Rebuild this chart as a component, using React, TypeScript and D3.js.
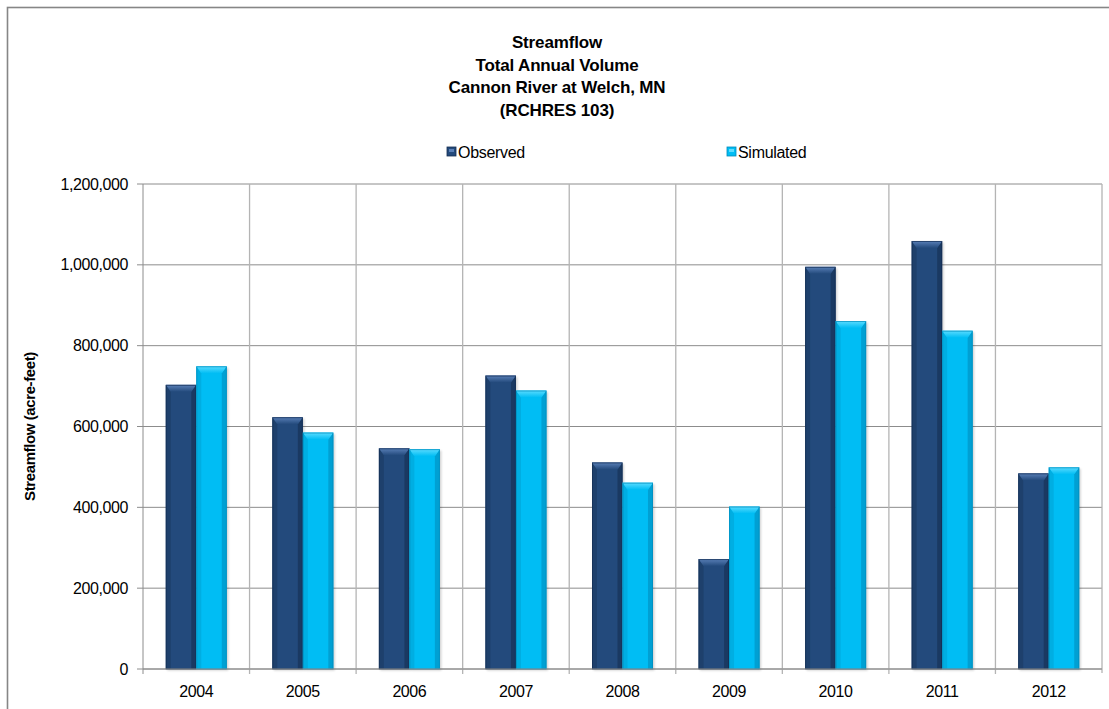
import React from "react";
import * as d3 from "d3";

const years = ["2004", "2005", "2006", "2007", "2008", "2009", "2010", "2011", "2012"];
const observed = [703000, 623000, 546000, 726000, 511000, 272000, 995000, 1059000, 484000];
const simulated = [749000, 585000, 544000, 689000, 461000, 402000, 861000, 837000, 499000];
const seriesNames = ["Observed", "Simulated"];
const yTicks = [0, 200000, 400000, 600000, 800000, 1000000, 1200000];
const titleLines = ["Streamflow", "Total Annual Volume", "Cannon River at Welch, MN", "(RCHRES 103)"];
const yAxisTitle = "Streamflow (acre-feet)";

const W = 1109;
const H = 709;
const plot = { left: 143, right: 1102, top: 184, bottom: 669 };

const palettes = [
  { base: "#234a7c", light: "#5a80b8", dark: "#142e52", edge: "#1a3a63" },
  { base: "#00bdf4", light: "#5cdcff", dark: "#008cbc", edge: "#00a3d6" },
];

const font = "'Liberation Sans', Arial, sans-serif";

function Bar({ x, y, w, h, pi }: { x: number; y: number; w: number; h: number; pi: number }) {
  const p = palettes[pi];
  const bw = 5;
  const bh = 7;
  const b = y + h;
  return (
    <g>
      <rect x={x + 1.5} y={y + 1.5} width={w} height={h} fill="#000" opacity={0.18} filter="url(#blur)" />
      <rect x={x} y={y} width={w} height={h} fill={p.base} />
      <polygon points={`${x},${y} ${x + bw},${y + bh} ${x + bw},${b} ${x},${b}`} fill={p.edge} opacity={0.6} />
      <polygon points={`${x + w},${y} ${x + w - bw},${y + bh} ${x + w - bw},${b} ${x + w},${b}`} fill={p.dark} opacity={0.6} />
      <polygon points={`${x},${y} ${x + w},${y} ${x + w - bw},${y + bh} ${x + bw},${y + bh}`} fill={`url(#top${pi})`} />
      <rect x={x + 0.5} y={y + 0.5} width={w - 1} height={h - 0.5} fill="none" stroke={p.dark} strokeWidth={1} opacity={0.7} />
    </g>
  );
}

export default function App() {
  const x0 = d3.scaleBand<string>().domain(years).range([plot.left, plot.right]).paddingInner(0).paddingOuter(0);
  const x1 = d3.scaleBand<string>().domain(seriesNames).range([0, x0.bandwidth()]).paddingInner(0).paddingOuter(0.747);
  const y = d3.scaleLinear().domain([0, 1200000]).range([plot.bottom, plot.top]);
  const fmt = d3.format(",");
  const series = [observed, simulated];
  const boundaries = years.map((yr) => x0(yr)!).concat([plot.right]);

  return (
    <svg width={W} height={H} style={{ position: "absolute", left: 0, top: 0, background: "#fff" }} fontFamily={font}>
      <defs>
        <filter id="blur" x="-20%" y="-20%" width="140%" height="140%">
          <feGaussianBlur stdDeviation={1.2} />
        </filter>
        {palettes.map((p, i) => (
          <linearGradient key={i} id={`top${i}`} x1="0" x2="0" y1="0" y2="1">
            <stop offset="0" stopColor={p.light} />
            <stop offset="1" stopColor={p.base} />
          </linearGradient>
        ))}
      </defs>
      <rect x={0} y={0} width={W} height={H} fill="#fff" />
      <rect x={7.5} y={7.5} width={W + 20} height={H + 20} fill="none" stroke="#868686" strokeWidth={1.6} />

      {titleLines.map((t, i) => (
        <text key={i} x={557} y={48 + i * 22.5} textAnchor="middle" fontSize={17} fontWeight="bold" fill="#000" letterSpacing={-0.15}>
          {t}
        </text>
      ))}

      {seriesNames.map((s, i) => {
        const lx = i === 0 ? 447 : 727;
        const p = palettes[i];
        return (
          <g key={s}>
            <rect x={lx} y={147} width={9} height={9} fill={p.base} stroke={p.dark} strokeWidth={0.8} />
            <rect x={lx + 2} y={149} width={5} height={3} fill={p.light} />
            <text x={lx + 11} y={158} fontSize={16} fill="#000" letterSpacing={-0.3}>
              {s}
            </text>
          </g>
        );
      })}

      {yTicks.map((t) => (
        <g key={t}>
          <line x1={plot.left - 6} x2={plot.right} y1={y(t)} y2={y(t)} stroke="#8c8c8c" strokeWidth={1} />
          <text x={128} y={y(t) + 5.5} textAnchor="end" fontSize={16} fill="#000" letterSpacing={-0.4}>
            {fmt(t)}
          </text>
        </g>
      ))}

      {boundaries.map((bx, i) => (
        <line
          key={i}
          x1={bx}
          x2={bx}
          y1={plot.top}
          y2={i === boundaries.length - 1 ? plot.bottom + 4 : plot.bottom + 5}
          stroke={i === 0 ? "#8c8c8c" : "#b4b4b4"}
          strokeWidth={i === 0 ? 1 : 1.3}
        />
      ))}

      {years.map((yr, ci) =>
        series.map((vals, si) => {
          const bx = x0(yr)! + x1(seriesNames[si])!;
          const by = y(vals[ci]);
          return <Bar key={`${yr}-${si}`} x={bx} y={by} w={x1.bandwidth()} h={plot.bottom - by} pi={si} />;
        })
      )}

      <line x1={plot.left} x2={plot.right} y1={plot.bottom} y2={plot.bottom} stroke="#8c8c8c" strokeWidth={1} />

      {years.map((yr) => (
        <text key={yr} x={x0(yr)! + x0.bandwidth() / 2} y={697} textAnchor="middle" fontSize={16} fill="#000" letterSpacing={-0.4}>
          {yr}
        </text>
      ))}

      <text
        transform={`translate(35, ${(plot.top + plot.bottom) / 2}) rotate(-90)`}
        textAnchor="middle"
        fontSize={15}
        fontWeight="bold"
        fill="#000"
        letterSpacing={-0.4}
      >
        {yAxisTitle}
      </text>
    </svg>
  );
}
